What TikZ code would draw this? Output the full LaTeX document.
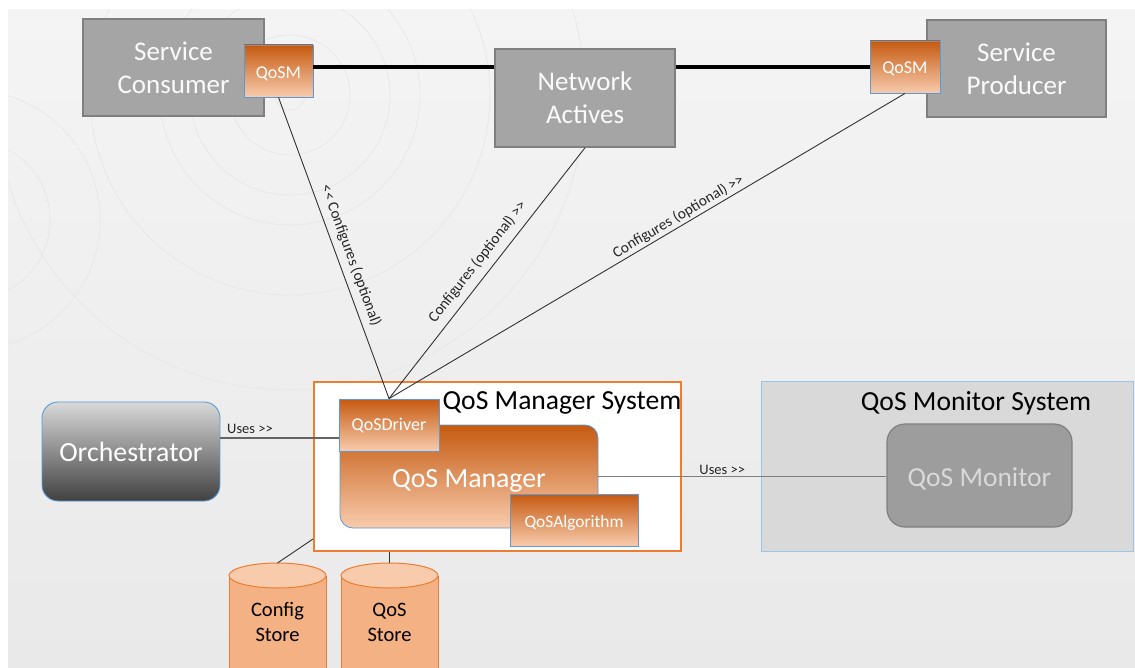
\documentclass[tikz,border=0pt]{standalone}
\usepackage{fontspec}
\setmainfont{Carlito}[Ligatures=TeXOff]
\usetikzlibrary{calc}

\definecolor{bgtop}{RGB}{244,244,244}
\definecolor{bgbot}{RGB}{233,233,233}
\definecolor{ring}{RGB}{231,231,231}
\definecolor{boxgray}{RGB}{165,165,165}
\definecolor{boxedge}{RGB}{127,127,127}
\definecolor{ordark}{RGB}{197,90,17}
\definecolor{orlight}{RGB}{248,203,173}
\definecolor{oredge}{RGB}{237,125,49}
\definecolor{blueedge}{RGB}{91,155,213}
\definecolor{paleblue}{RGB}{157,195,230}
\definecolor{cylbody}{RGB}{244,177,131}
\definecolor{cyltop}{RGB}{248,203,173}
\definecolor{wire}{RGB}{50,50,50}
\definecolor{usegray}{RGB}{100,100,100}
\definecolor{orchtop}{RGB}{217,217,217}
\definecolor{orchbot}{RGB}{64,64,64}
\definecolor{monfill}{RGB}{157,157,157}
\definecolor{monsys}{RGB}{217,217,217}
\definecolor{montext}{RGB}{217,217,217}
\definecolor{softwhite}{RGB}{250,250,250}

% lower a label inside its box without changing the box size
\newcommand{\lowered}[2]{\raisebox{-#1}[\height][\depth]{#2}}

\tikzset{
  fs/.style 2 args={font=\fontsize{#1}{#2}\selectfont},
  actor/.style={draw=boxedge, line width=1.5pt, fill=boxgray, text=softwhite,
    inner sep=0pt, align=center, fs={27}{33}},
  orangebox/.style={draw=blueedge, line width=0.8pt, top color=ordark,
    bottom color=orlight, text=white, inner sep=0pt},
  tag/.style={orangebox, fs={18}{22}},
  lbl/.style={fs={15.3}{18}, text=black!85, inner sep=1pt},
  cfgline/.style={draw=wire, line width=0.9pt},
  useline/.style={draw=usegray, line width=1.3pt},
  systitle/.style={fs={27.6}{32}, text=black, inner sep=0pt},
  cyl/.style={draw=oredge, line width=1pt},
  storetext/.style={fs={20.5}{25}, text=black, align=center, inner sep=0pt},
}

\begin{document}
\begin{tikzpicture}[x=1pt,y=1pt]
\useasboundingbox (0,0) rectangle (1135,-668);
\fill[white] (0,0) rectangle (1135,-668);
\shade[top color=bgtop, bottom color=bgbot] (8,-10) rectangle (1135,-668);

% faint decorative rings in the background
\begin{scope}
  \clip (8,-10) rectangle (1135,-668);
  \foreach \r in {15,60,100,130,200,295}
    \draw[ring, line width=0.7pt] (290,-95) circle[radius=\r];
  \foreach \r in {80,130}
    \draw[ring, line width=0.7pt] (-30,-220) circle[radius=\r];
\end{scope}

% top row: endpoints and network
\node[actor, minimum width=181, minimum height=97] (cons) at (173.5,-67.5) {Service\\Consumer};
\node[tag, minimum width=69, minimum height=52] (qosmL) at (278.5,-71) {\lowered{2.5pt}{QoSM}};
\node[actor, minimum width=180, minimum height=98] (net) at (585,-98) {Network\\Actives};
\node[actor, minimum width=179, minimum height=97] (prod) at (1016.5,-68.5) {Service\\Producer};
\node[tag, minimum width=70, minimum height=52] (qosmR) at (905,-67) {\lowered{2pt}{QoSM}};

% QoS Manager System
\node[draw=oredge, line width=2pt, fill=white, minimum width=367, minimum height=169,
      inner sep=0pt] (sys) at (497.5,-466.5) {};
\node[systitle] (systitle) at (562,-403) {QoS Manager System};
\node[orangebox, rounded corners=13pt, minimum width=258, minimum height=103,
      fs={27.8}{32}] (mgr) at (469,-476.5) {\lowered{4pt}{QoS Manager}};
\node[tag, minimum width=100, minimum height=52] (drv) at (389,-425) {QoSDriver};
\node[tag, fs={17.4}{22}, minimum width=128, minimum height=52] (alg) at (574,-520) {\lowered{2.5pt}{QoSAlgorithm}};

% Orchestrator
\node[draw=blueedge, line width=0.9pt, rounded corners=16pt, top color=orchtop,
      bottom color=orchbot, text=white, minimum width=178, minimum height=99,
      inner sep=0pt, fs={27.8}{32}] (orch) at (131,-451.5) {Orchestrator};

% QoS Monitor System
\node[draw=paleblue, line width=1pt, fill=monsys, minimum width=372, minimum height=170,
      inner sep=0pt] (monsys) at (947,-466) {};
\node[systitle] (montitle) at (976,-403) {QoS Monitor System};
\node[draw=boxedge, line width=1.2pt, fill=monfill, rounded corners=18pt,
      text=montext, minimum width=185, minimum height=103, inner sep=0pt,
      fs={27.5}{32}] (mon) at (979.5,-475.5) {\lowered{3pt}{QoS Monitor}};

% data stores
\draw[cyl, fill=cylbody] (229,-575.5) -- (229,-700) -- (326,-700) -- (326,-575.5);
\draw[cyl, fill=cyltop] (277.5,-575.5) ellipse[x radius=48.5, y radius=12.5];
\draw[cyl, fill=cylbody] (341,-575.5) -- (341,-700) -- (438,-700) -- (438,-575.5);
\draw[cyl, fill=cyltop] (389.5,-575.5) ellipse[x radius=48.5, y radius=12.5];
\coordinate (cfgtop) at (277.5,-563);
\coordinate (qsttop) at (389.5,-563);
\node[storetext] (cfg) at (277.5,-621.5) {Config\\Store};
\node[storetext] (qst) at (389.5,-622.5) {QoS\\Store};

% network link
\coordinate (lnk) at (0,-67);
\draw[line width=4pt, black] (qosmL.east |- lnk) -- (net.west |- lnk);
\draw[line width=4pt, black] (net.east |- lnk) -- (qosmR.west |- lnk);

% configuration relations
\draw[cfgline] (qosmL.south) -- node[lbl, sloped, above=5pt, pos=0.54] {<< Configures (optional)} (drv.north);
\draw[cfgline] (drv.north) -- node[lbl, sloped, above=6pt, pos=0.51] {Configures (optional) >>} (net.south);
\draw[cfgline] (drv.north) -- node[lbl, sloped, above=1pt, pos=0.57] {Configures (optional) >>} (qosmR.south);

% usage relations
\coordinate (u1) at (0,-438);
\draw[useline] (orch.east |- u1) -- node[lbl, fs={14.5}{17}, above=3pt, pos=0.25] {Uses >>} (drv.west |- u1);
\draw[useline, draw=boxedge] (mgr.east) -- node[lbl, fs={14.5}{17}, above=0pt, pos=0.43] {Uses >>} (mgr.east -| mon.west);

% store connections
\draw[cfgline] ($(sys.south west)+(0,13)$) -- (cfgtop);
\draw[cfgline] (sys.south -| qsttop) -- (qsttop);
\end{tikzpicture}
\end{document}
